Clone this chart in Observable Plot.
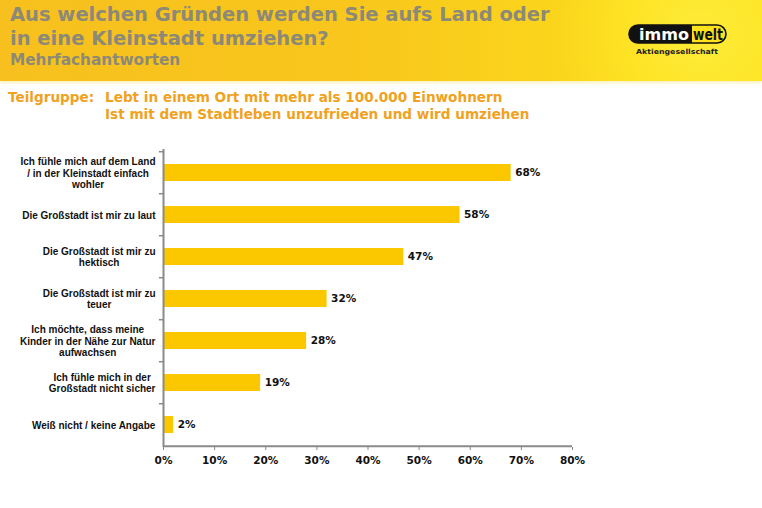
<!DOCTYPE html>
<html lang="de">
<head>
<meta charset="utf-8">
<script src="https://cdn.jsdelivr.net/npm/d3@7"></script>
<script src="https://cdn.jsdelivr.net/npm/@observablehq/plot@0.6"></script>
<style>
  html, body { margin: 0; padding: 0; background: #fff; }
  #page { position: relative; width: 762px; height: 508px; overflow: hidden; font-family: "DejaVu Sans", Verdana, sans-serif; }
  #header {
    position: absolute; left: 0; top: 0; width: 762px; height: 81px;
    background:
      radial-gradient(circle at 700px 35px, rgba(255,238,60,0.85) 0px, rgba(255,234,40,0.55) 75px, rgba(255,230,30,0) 140px),
      linear-gradient(to right, #f7c01e 0%, #f8c61c 45%, #fbd61c 75%, #fde22a 100%);
    box-shadow: 0 2px 3px rgba(245,215,60,0.35);
  }
  #title { position: absolute; left: 10px; top: 3px; font-weight: bold; color: #8c8977; font-size: 19.5px; line-height: 23.5px; white-space: nowrap; }
  #subtitle { position: absolute; left: 10px; top: 51px; font-weight: bold; color: #8c8977; font-size: 15.3px; line-height: 18px; }
  #logo { position: absolute; left: 628px; top: 24px; width: 100px; height: 36px; }
  #group { position: absolute; left: 8px; top: 89px; font-weight: bold; color: #f0a21e; font-size: 13.6px; line-height: 16.5px; }
  #group .lab { position: absolute; left: 0; top: 0; }
  #group .txt { position: absolute; left: 97px; top: 0; white-space: nowrap; }
  #chart { position: absolute; left: 0; top: 130px; line-height: 0; }
</style>
</head>
<body>
<div id="page">
  <div id="header">
    <div id="title">Aus welchen Gründen werden Sie aufs Land oder<br>in eine Kleinstadt umziehen?</div>
    <div id="subtitle">Mehrfachantworten</div>
    <svg id="logo" viewBox="0 0 100 36" width="100" height="36">
      <rect x="1" y="1" width="97" height="18" rx="9" fill="#fde21c" stroke="#111" stroke-width="1.6"/>
      <path d="M10,1 H64 V19 H10 A9,9 0 0 1 10,1 Z" fill="#111"/>
      <text x="36" y="15.5" text-anchor="middle" font-family="'DejaVu Sans', sans-serif" font-weight="bold" font-size="15" fill="#fff" textLength="50" lengthAdjust="spacingAndGlyphs">immo</text>
      <text x="80" y="15.5" text-anchor="middle" font-family="'DejaVu Sans', sans-serif" font-weight="bold" font-size="15" fill="#111" textLength="30" lengthAdjust="spacingAndGlyphs">welt</text>
      <text x="49" y="30" text-anchor="middle" font-family="'DejaVu Sans', sans-serif" font-weight="bold" font-size="7" fill="#222" textLength="82" lengthAdjust="spacingAndGlyphs">Aktiengesellschaft</text>
    </svg>
  </div>
  <div id="group">
    <div class="lab">Teilgruppe:</div>
    <div class="txt">Lebt in einem Ort mit mehr als 100.000 Einwohnern<br>Ist mit dem Stadtleben unzufrieden und wird umziehen</div>
  </div>
  <div id="chart"></div>
</div>
<script>
// Reasons for moving to the countryside / a small town (multiple answers, %)
const reasons = [
  "Ich fühle mich auf dem Land\n/ in der Kleinstadt einfach\nwohler",
  "Die Großstadt ist mir zu laut",
  "Die Großstadt ist mir zu\nhektisch",
  "Die Großstadt ist mir zu\nteuer",
  "Ich möchte, dass meine\nKinder in der Nähe zur Natur\naufwachsen",
  "Ich fühle mich in der\nGroßstadt nicht sicher",
  "Weiß nicht / keine Angabe"
];
const shares = [68, 58, 47, 32, 28, 19, 2];
const xTicks = [0, 10, 20, 30, 40, 50, 60, 70, 80];

const data = reasons.map((reason, i) => ({reason, share: shares[i]}));

const width = 762, height = 350;
const marginTop = 19, marginBottom = 33, marginLeft = 163, marginRight = 190;
const step = (height - marginTop - marginBottom) / reasons.length;
const font = "'DejaVu Sans', Verdana, sans-serif";
const labelFont = "'Liberation Sans', Arial, sans-serif";
const labelSize = 10;

// measure label blocks so that each multi-line label is centred and right-aligned to the axis
const ctx = document.createElement("canvas").getContext("2d");
ctx.font = `bold ${labelSize}px ${labelFont}`;
const blockWidth = r => Math.max(...r.split("\n").map(l => ctx.measureText(l).width));

const labelMarks = reasons.map(r => Plot.text([r], {
  y: d => d,
  text: d => d,
  frameAnchor: "left",
  textAnchor: "middle",
  lineAnchor: "middle",
  lineHeight: 1.12,
  dx: -(8 + blockWidth(r) / 2),
  fontFamily: labelFont,
  fontSize: labelSize,
  fontWeight: "bold",
  fill: "#111"
}));

const chart = Plot.plot({
  width, height, marginTop, marginBottom, marginLeft, marginRight,
  style: {fontFamily: font, background: "transparent", overflow: "visible"},
  x: {domain: [0, 80], axis: null},
  y: {domain: reasons, paddingInner: 0.6, paddingOuter: 0.3, axis: null},
  marks: [
    Plot.barX(data, {x: "share", y: "reason", fill: "#fbc800"}),
    Plot.text(data, {
      x: "share", y: "reason", text: d => `${d.share}%`,
      textAnchor: "start", dx: 4, fontSize: 10.5, fontWeight: "bold", fill: "#111"
    }),
    // y axis line with boundary ticks between categories
    Plot.ruleX([0], {stroke: "#8a8a8a", strokeWidth: 2}),
    Plot.ruleY(reasons, {y: d => d, x1: -0.8, x2: 0, dy: -step / 2, stroke: "#8a8a8a", strokeWidth: 1.5}),
    // x axis line along the bottom boundary
    Plot.ruleY(reasons.slice(-1), {y: d => d, x1: 0, x2: 80, dy: step / 2, stroke: "#8a8a8a", strokeWidth: 2}),
    Plot.axisX(xTicks, {
      anchor: "bottom", label: null, tickSize: 3, tickPadding: 6, stroke: "#8a8a8a",
      tickFormat: d => `${d}%`, fontSize: 10.5, fontWeight: "bold", fill: "#111"
    }),
    ...labelMarks
  ]
});
document.getElementById("chart").appendChild(chart);
</script>
</body>
</html>
